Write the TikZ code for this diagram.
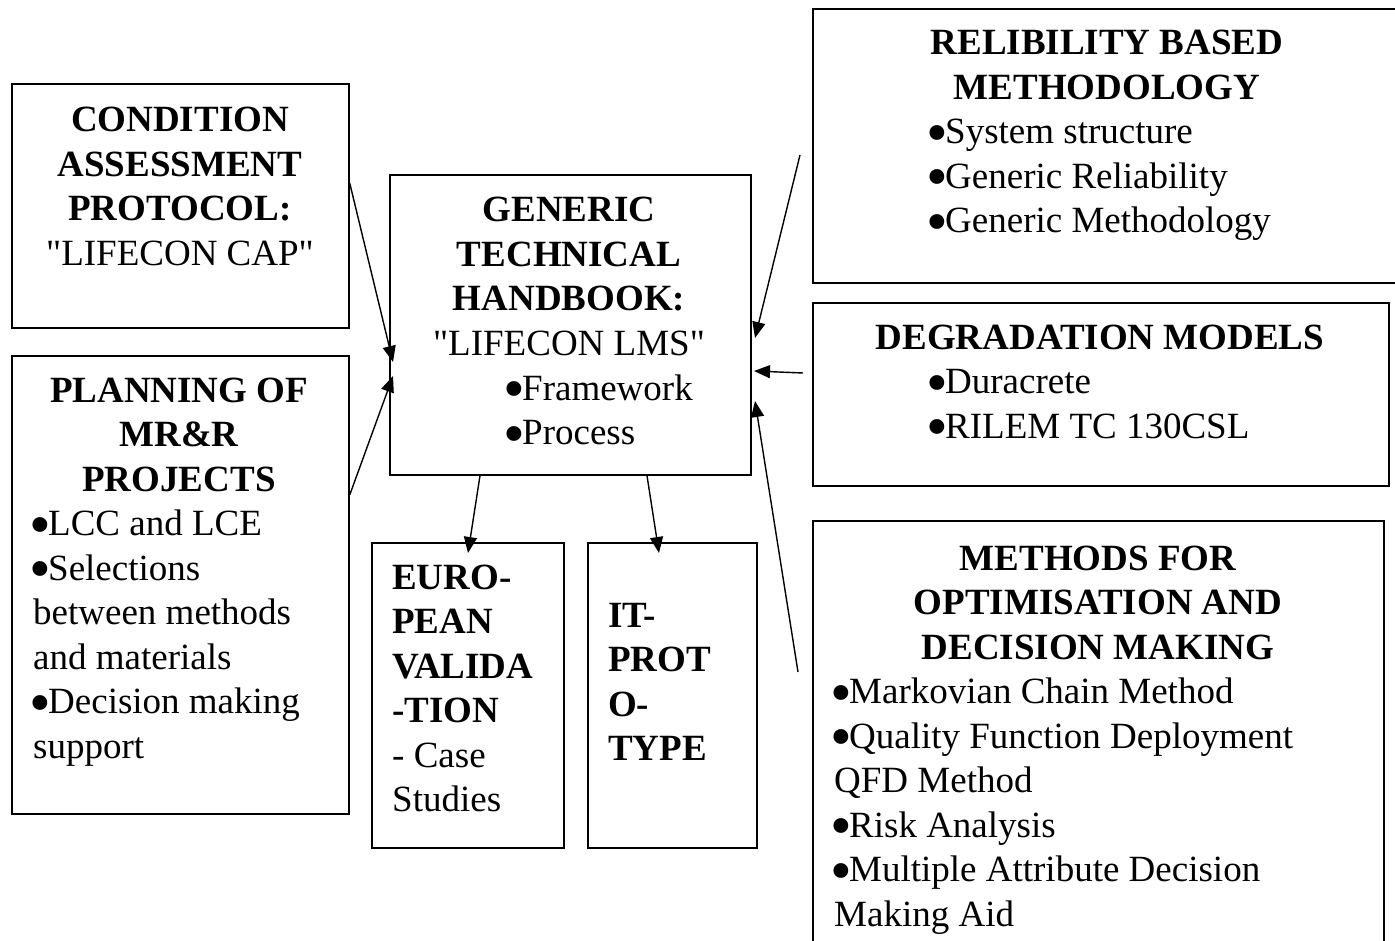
\documentclass[tikz,border=0pt]{standalone}
\usepackage{fontspec}
\newfontfamily\tnr{Liberation Serif}
\usetikzlibrary{arrows.meta}
\newcommand\fsz{\tnr\fontsize{37}{44.5}\selectfont}
\newcommand\bul{\makebox[15pt][l]{\hspace{-4pt}\raisebox{-9.5pt}{\makebox[0pt][l]{\fontsize{62}{0}\selectfont •}}}}
\begin{document}
\begin{tikzpicture}[x=1pt,y=-1pt,
  box/.style={draw, line width=1.7pt, inner sep=0pt, anchor=north west},
  arr/.style={-{Triangle[length=16pt,width=13pt]}, line width=1.4pt},
  tb/.style={anchor=base, inner sep=0pt, font=\fsz\bfseries},
  tr/.style={anchor=base, inner sep=0pt, font=\fsz},
  tlb/.style={anchor=base west, inner sep=0pt, font=\fsz\bfseries},
  tl/.style={anchor=base west, inner sep=0pt, font=\fsz}]
\useasboundingbox (0,0) rectangle (1395,941);
\fill[white] (0,0) rectangle (1395,941);

% boxes
\node[box, minimum width=337pt, minimum height=244pt] (cap) at (11,83) {};
\node[box, minimum width=337pt, minimum height=458pt] (plan) at (11,355) {};
\node[box, minimum width=361pt, minimum height=300pt] (gth) at (389,174) {};
\node[box, minimum width=192pt, minimum height=305pt] (eur) at (371,542) {};
\node[box, minimum width=169pt, minimum height=305pt] (itp) at (587,542) {};
\node[box, minimum width=591pt, minimum height=274pt] (rel) at (812,8) {};
\node[box, minimum width=576pt, minimum height=183pt] (deg) at (812,302) {};
\node[box, minimum width=571pt, minimum height=440pt] (met) at (812,520) {};

% condition assessment protocol
\node[tb] (c1) at (180,132) {CONDITION};
\node[tb] (c2) at (180,176.5) {ASSESSMENT};
\node[tb] (c3) at (180,221) {PROTOCOL:};
\node[tr] (c4) at (180,265.5) {"LIFECON CAP"};

% planning
\node[tb] (p1) at (179,402) {PLANNING OF};
\node[tb] (p2) at (179,446.5) {MR\&R};
\node[tb] (p3) at (179,491) {PROJECTS};
\node[tl] (p4) at (33,535.5) {\bul LCC and LCE};
\node[tl] (p5) at (33,580) {\bul Selections};
\node[tl] (p6) at (33,624.5) {between methods};
\node[tl] (p7) at (33,669) {and materials};
\node[tl] (p8) at (33,713.5) {\bul Decision making};
\node[tl] (p9) at (33,758) {support};

% generic technical handbook
\node[tb] (g1) at (569,222) {GENERIC};
\node[tb] (g2) at (569,266.5) {TECHNICAL};
\node[tb] (g3) at (569,311) {HANDBOOK:};
\node[tr] (g4) at (569,355.5) {"LIFECON LMS"};
\node[tl] (g5) at (507,400) {\bul Framework};
\node[tl] (g6) at (507,444.5) {\bul Process};

% european validation
\node[tlb] (e1) at (392,589) {EURO-};
\node[tlb] (e2) at (392,633.5) {PEAN};
\node[tlb] (e3) at (392,678) {VALIDA};
\node[tlb] (e4) at (392,722.5) {-TION};
\node[tl] (e5) at (392,767) {- Case};
\node[tl] (e6) at (392,811.5) {Studies};

% IT prototype
\node[tlb] (i1) at (608,627) {IT-};
\node[tlb] (i2) at (608,671.5) {PROT};
\node[tlb] (i3) at (608,716) {O-};
\node[tlb] (i4) at (608,760.5) {TYPE};

% reliability
\node[tb] (r1) at (1107,55) {RELIBILITY BASED};
\node[tb] (r2) at (1107,99.5) {METHODOLOGY};
\node[tl] (r3) at (930,144) {\bul System structure};
\node[tl] (r4) at (930,188.5) {\bul Generic Reliability};
\node[tl] (r5) at (930,233) {\bul Generic Methodology};

% degradation
\node[tb] (d1) at (1100,349) {DEGRADATION MODELS};
\node[tl] (d2) at (930,393.5) {\bul Duracrete};
\node[tl] (d3) at (930,438) {\bul RILEM TC 130CSL};

% methods
\node[tb] (m1) at (1098,570) {METHODS FOR};
\node[tb] (m2) at (1098,614.5) {OPTIMISATION AND};
\node[tb] (m3) at (1098,659) {DECISION MAKING};
\node[tl] (m4) at (834,703.5) {\bul Markovian Chain Method};
\node[tl] (m5) at (834,748) {\bul Quality Function Deployment};
\node[tl] (m6) at (834,792.5) {QFD Method};
\node[tl] (m7) at (834,837) {\bul Risk Analysis};
\node[tl] (m8) at (834,881.5) {\bul Multiple Attribute Decision};
\node[tl] (m9) at (834,926) {Making Aid};

% connector ends
\coordinate (tcap) at (393,362);
\coordinate (tplan) at (393,376);
\coordinate (trel) at (755,338);
\coordinate (tdeg) at (754,371);
\coordinate (tmet) at (755,401);
\coordinate (srel) at (800,155);
\coordinate (sdeg) at (803,373);
\coordinate (smet) at (798,672);
\coordinate (teur) at (468,553);
\coordinate (titp) at (659,553);

% connectors
\draw[arr] ([yshift=-100pt]cap.north east) -- (tcap);
\draw[arr] ([yshift=-140pt]plan.north east) -- (tplan);
\draw[arr] (srel) -- (trel);
\draw[arr] (sdeg) -- (tdeg);
\draw[arr] (smet) -- (tmet);
\draw[arr] ([xshift=91pt]gth.south west) -- (teur);
\draw[arr] ([xshift=258pt]gth.south west) -- (titp);
\end{tikzpicture}
\end{document}
